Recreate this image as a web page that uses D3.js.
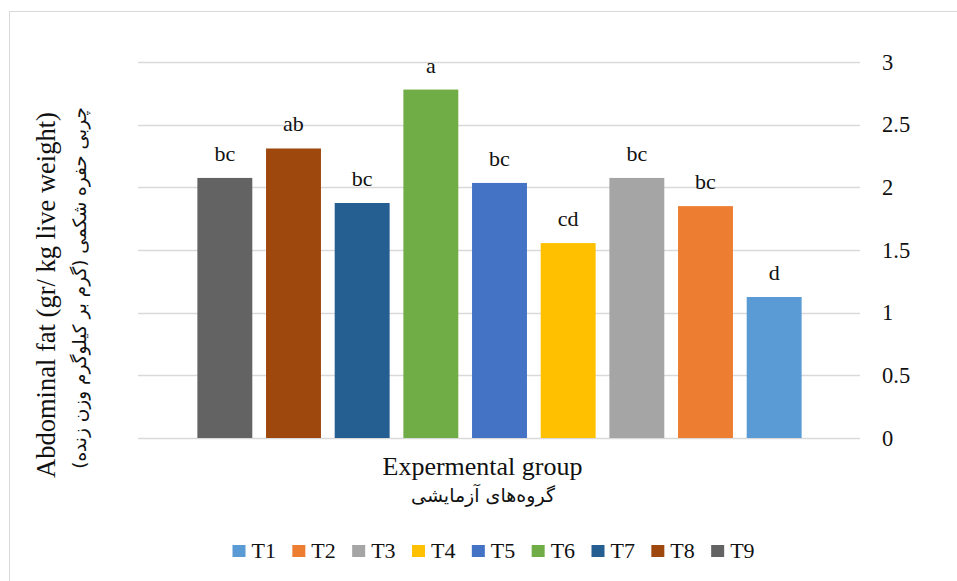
<!DOCTYPE html>
<html><head><meta charset="utf-8">
<script src="https://cdn.jsdelivr.net/npm/d3@7"></script>
<style>
html,body{margin:0;padding:0;background:#fff;}
svg{display:block;}
</style></head>
<body>
<svg id="chart" width="957" height="581"></svg>
<script>
const groups = ["T1","T2","T3","T4","T5","T6","T7","T8","T9"];
const values = [1.125, 1.85, 2.075, 1.555, 2.035, 2.78, 1.875, 2.31, 2.075];
const letters = ["d","bc","bc","cd","bc","a","bc","ab","bc"];
const colors = ["#5b9bd5","#ed7d31","#a5a5a5","#ffc000","#4472c4","#70ad47","#255e91","#9e480e","#636363"];
const yTicks = [0,0.5,1,1.5,2,2.5,3];
const xTitle = "Expermental group";
const xTitleFa = "گروه‌های آزمایشی";
const yTitle = "Abdominal fat (gr/ kg live weight)";
const yTitleFa = "چربی حفره شکمی (گرم بر کیلوگرم وزن زنده)";

const svg = d3.select("#chart");
const serif = "'Liberation Serif','Times New Roman',serif";
const fa = "'DejaVu Sans',sans-serif";
const ink = "#111";

// outer chart border
svg.append("rect").attr("x",9.5).attr("y",11.5).attr("width",960).attr("height",600)
  .attr("fill","none").attr("stroke","#d9d9d9").attr("stroke-width",1);

const plot = {left:138, right:860, top:62, bottom:438};
const y = d3.scaleLinear().domain([0,3]).range([plot.bottom, plot.top]);
// reversed category order (right-to-left axis)
const x = d3.scaleBand().domain(groups.slice().reverse()).range([190.5, 808.5])
  .paddingInner(0.2).paddingOuter(0.1);

// gridlines
svg.append("g").selectAll("line").data(yTicks).join("line")
  .attr("x1",plot.left).attr("x2",plot.right)
  .attr("y1",d=>Math.round(y(d))+0.5).attr("y2",d=>Math.round(y(d))+0.5)
  .attr("stroke","#d9d9d9").attr("stroke-width",1.3);

// right axis labels
const yAxis = d3.axisRight(y).tickValues(yTicks).tickSize(0).tickPadding(22)
  .tickFormat(d=>String(d));
const ya = svg.append("g").attr("transform",`translate(${plot.right},0)`).call(yAxis)
  .attr("font-family",serif).attr("font-size",22.5);
ya.select(".domain").remove();
ya.selectAll("text").style("font-family",serif).style("font-size","22.5px").attr("fill",ink);

const data = groups.map((g,i)=>({g, v:values[i], l:letters[i], c:colors[i]}));

svg.append("g").selectAll("rect").data(data).join("rect")
  .attr("x",d=>x(d.g)).attr("width",x.bandwidth())
  .attr("y",d=>y(d.v)).attr("height",d=>y(0)-y(d.v))
  .attr("fill",d=>d.c);

svg.append("g").selectAll("text").data(data).join("text")
  .attr("x",d=>x(d.g)+x.bandwidth()/2).attr("y",d=>y(d.v)-17)
  .attr("text-anchor","middle").attr("font-family",serif).attr("font-size",22)
  .attr("fill",ink).text(d=>d.l);

// x titles
svg.append("text").attr("x",482.5).attr("y",475).attr("text-anchor","middle")
  .attr("font-family",serif).attr("font-size",26).attr("fill",ink).text(xTitle);
svg.append("text").attr("x",483).attr("y",502).attr("text-anchor","middle")
  .attr("direction","rtl").attr("font-family",fa).attr("font-size",19).attr("fill",ink).text(xTitleFa);

// y titles
svg.append("text").attr("transform","translate(55,295) rotate(-90)").attr("text-anchor","middle")
  .attr("font-family",serif).attr("font-size",26.5).attr("fill",ink).text(yTitle);
svg.append("text").attr("transform","translate(86,288) rotate(-90)").attr("text-anchor","middle")
  .attr("direction","rtl").attr("font-family",fa).attr("font-size",18.5).attr("fill",ink).text(yTitleFa);

// legend
const lg = svg.append("g");
const lx = d3.scaleBand().domain(groups).range([232.5, 771]);
const item = lg.selectAll("g").data(data).join("g")
  .attr("transform",d=>`translate(${lx(d.g)},545)`);
item.append("rect").attr("width",13).attr("height",12).attr("fill",d=>d.c);
item.append("text").attr("x",19).attr("y",13).attr("font-family",serif).attr("font-size",22)
  .attr("fill",ink).text(d=>d.g);
</script>
</body></html>
